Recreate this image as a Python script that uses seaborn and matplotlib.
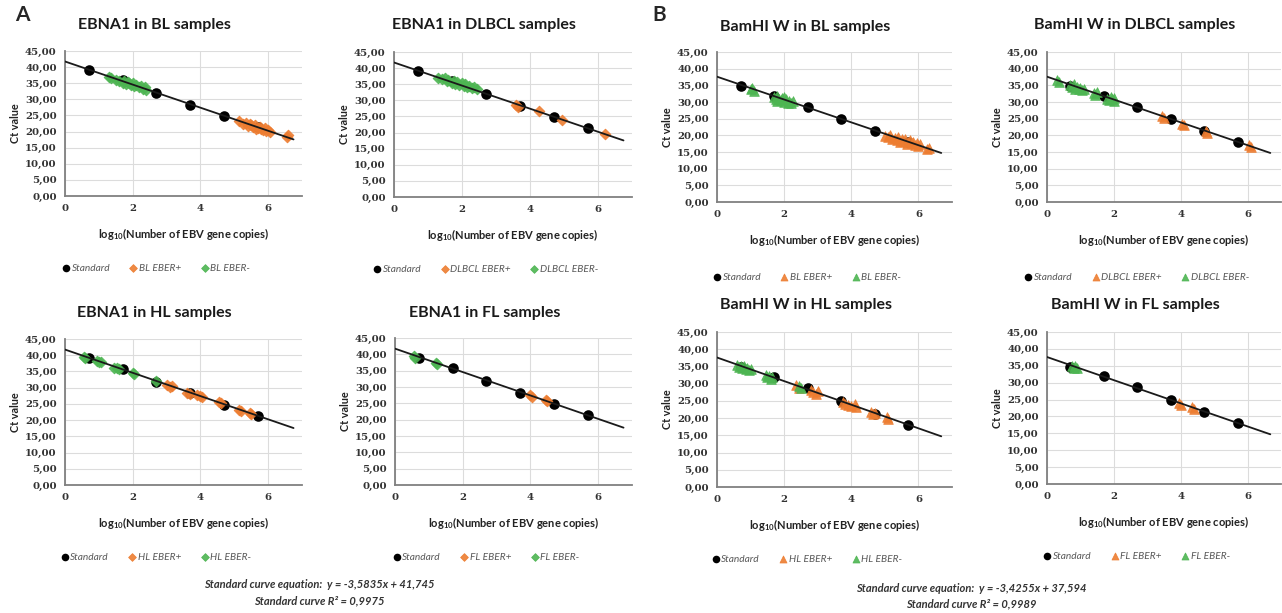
import numpy as np
import pandas as pd
import matplotlib
matplotlib.use("Agg")
import matplotlib.pyplot as plt
from matplotlib.font_manager import FontProperties
import seaborn as sns

# ---------------- data ----------------
std_x = [0.7, 1.7, 2.7, 3.7, 4.7, 5.7]
a_std_y = [39.0, 35.9, 31.9, 28.3, 24.8, 21.3]
b_std_y = [34.7, 31.9, 28.6, 24.9, 21.2, 18.0]

a_slope, a_intercept, a_line_end = -3.5835, 41.745, 6.75
b_slope, b_intercept, b_line_end = -3.4255, 37.594, 6.68

# EBNA1 (A)
a_bl_pos_x = [5.15, 5.25, 5.35, 5.4, 5.45, 5.5, 5.55, 5.6, 5.65, 5.7, 5.75, 5.8, 5.85, 5.9, 5.95, 6.0, 6.05, 6.55, 6.6]
a_bl_pos_y = [23.2, 22.5, 22.8, 21.8, 22.3, 22.0, 21.5, 21.9, 20.8, 21.0, 21.4, 20.8, 20.5, 21.2, 20.2, 20.6, 20.0, 18.3, 18.8]
a_bl_neg_x = [1.3, 1.35, 1.5, 1.6, 1.7, 1.75, 1.8, 1.85, 1.9, 1.95, 2.0, 2.05, 2.1, 2.2, 2.25, 2.3, 2.35, 2.4]
a_bl_neg_y = [37.0, 36.5, 36.0, 35.8, 35.2, 35.6, 34.8, 35.3, 35.0, 34.5, 35.1, 34.2, 34.6, 33.8, 34.2, 33.3, 33.8, 33.0]

a_dlbcl_pos_x = [3.6, 3.65, 4.25, 4.95, 6.2]
a_dlbcl_pos_y = [28.5, 28.0, 26.8, 24.0, 19.5]
a_dlbcl_neg_x = [1.3, 1.4, 1.5, 1.55, 1.6, 1.7, 1.75, 1.8, 1.85, 1.9, 2.0, 2.05, 2.1, 2.15, 2.2, 2.3, 2.35, 2.45]
a_dlbcl_neg_y = [37.0, 36.5, 36.8, 36.0, 36.4, 35.5, 36.1, 35.2, 35.7, 34.9, 35.3, 34.6, 35.0, 34.2, 34.5, 33.8, 34.1, 33.4]

a_hl_pos_x = [3.0, 3.1, 3.15, 3.6, 3.7, 3.9, 4.0, 4.05, 4.55, 4.6, 5.15, 5.2, 5.45, 5.5]
a_hl_pos_y = [30.8, 30.3, 30.6, 28.5, 28.0, 27.6, 27.3, 27.0, 25.6, 25.2, 23.0, 22.7, 22.2, 21.8]
a_hl_neg_x = [0.55, 0.6, 0.95, 1.0, 1.05, 1.45, 1.55, 1.6, 2.0, 2.05, 2.7]
a_hl_neg_y = [39.5, 39.2, 38.3, 37.8, 38.0, 36.2, 36.0, 35.8, 34.6, 34.3, 32.0]

a_fl_pos_x = [4.0, 4.05, 4.45, 4.5]
a_fl_pos_y = [27.5, 27.0, 26.0, 25.6]
a_fl_neg_x = [0.55, 0.6, 1.2, 1.25]
a_fl_neg_y = [39.5, 39.0, 37.4, 37.0]

# BamHI W (B)
b_bl_pos_x = [5.0, 5.1, 5.15, 5.2, 5.3, 5.35, 5.4, 5.45, 5.5, 5.55, 5.6, 5.65, 5.7, 5.75, 5.8, 5.85, 5.9, 5.95, 6.0, 6.05, 6.25, 6.3]
b_bl_pos_y = [19.8, 19.5, 20.1, 19.0, 19.3, 18.7, 19.6, 18.0, 18.8, 18.3, 18.9, 17.5, 18.0, 18.5, 17.6, 18.1, 17.2, 17.8, 16.9, 17.4, 15.8, 16.3]
b_bl_neg_x = [1.0, 1.05, 1.1, 1.7, 1.75, 1.8, 1.8, 1.85, 1.9, 1.95, 2.0, 2.0, 2.05, 2.1, 2.15, 2.2, 2.25]
b_bl_neg_y = [33.8, 34.3, 33.3, 31.5, 30.8, 31.8, 30.2, 31.0, 30.5, 31.2, 30.0, 31.5, 30.8, 29.8, 30.3, 29.6, 30.2]

b_dlbcl_pos_x = [3.45, 3.5, 4.05, 4.1, 4.75, 4.8, 6.05, 6.1]
b_dlbcl_pos_y = [25.8, 25.3, 23.5, 23.0, 21.3, 20.8, 17.0, 16.5]
b_dlbcl_neg_x = [0.3, 0.35, 0.7, 0.75, 0.8, 0.85, 0.9, 0.95, 1.0, 1.05, 1.1, 1.4, 1.45, 1.5, 1.8, 1.85, 1.9, 1.95, 2.0, 2.0]
b_dlbcl_neg_y = [36.5, 36.0, 35.0, 34.5, 35.3, 34.0, 34.6, 33.8, 34.2, 33.5, 34.0, 32.8, 32.2, 33.0, 31.0, 30.5, 31.5, 30.8, 30.3, 31.2]

b_hl_pos_x = [2.35, 2.45, 2.8, 2.85, 2.95, 3.0, 3.75, 3.8, 3.9, 4.0, 4.1, 4.15, 4.6, 4.65, 4.7, 5.05, 5.1]
b_hl_pos_y = [29.5, 28.8, 28.2, 27.5, 27.0, 27.8, 24.8, 24.2, 23.8, 23.5, 24.0, 23.2, 21.8, 21.2, 21.5, 20.2, 19.6]
b_hl_neg_x = [0.6, 0.65, 0.7, 0.75, 0.8, 0.85, 0.9, 0.95, 1.0, 1.45, 1.5, 1.55, 1.6, 1.65, 2.45, 2.5]
b_hl_neg_y = [35.5, 34.8, 35.2, 34.5, 35.0, 34.2, 34.6, 33.9, 34.3, 32.5, 31.8, 32.2, 31.5, 32.0, 29.2, 28.6]

b_fl_pos_x = [3.95, 4.0, 4.35, 4.4]
b_fl_pos_y = [24.0, 23.4, 22.8, 22.2]
b_fl_neg_x = [0.75, 0.8, 0.85, 0.9]
b_fl_neg_y = [34.8, 34.4, 35.0, 34.2]

titles = ["EBNA1 in BL samples", "EBNA1 in DLBCL samples", "EBNA1 in HL samples", "EBNA1 in FL samples",
          "BamHI W in BL samples", "BamHI W in DLBCL samples", "BamHI W in HL samples", "BamHI W in FL samples"]
groups = ["BL", "DLBCL", "HL", "FL", "BL", "DLBCL", "HL", "FL"]
y_ticks = [0, 5, 10, 15, 20, 25, 30, 35, 40, 45]
x_ticks = [0, 2, 4, 6]
x_label = "log$_{10}$(Number of EBV gene copies)"
y_label = "Ct value"
eq_a = ["Standard curve equation:  y = -3,5835x + 41,745", "Standard curve R² = 0,9975"]
eq_b = ["Standard curve equation:  y = -3,4255x + 37,594", "Standard curve R² = 0,9989"]

# ---------------- style ----------------
sns.set_theme(style="white")
plt.rcParams["font.family"] = ["Lato", "DejaVu Sans"]
plt.rcParams["mathtext.fontset"] = "custom"
plt.rcParams["mathtext.rm"] = "Lato:bold"
plt.rcParams["mathtext.default"] = "rm"

ORANGE = "#ED7D31"
GREEN = "#4DB552"
W, H = 1282, 613
fig = plt.figure(figsize=(W / 100, H / 100), dpi=100)
fig.patch.set_facecolor("white")

tick_fp = FontProperties(family="DejaVu Serif", weight="bold", size=7.3)

rects = [(65, 51, 302, 196), (394, 52, 632, 197), (65, 339, 302, 485), (395, 338, 632, 485),
         (717, 52, 952, 202), (1047, 52, 1281, 202), (717, 332, 952, 487), (1047, 332, 1281, 484)]
title_y = [25, 25, 313, 313, 27, 25, 305, 305]

panels = [
    (a_bl_pos_x, a_bl_pos_y, a_bl_neg_x, a_bl_neg_y),
    (a_dlbcl_pos_x, a_dlbcl_pos_y, a_dlbcl_neg_x, a_dlbcl_neg_y),
    (a_hl_pos_x, a_hl_pos_y, a_hl_neg_x, a_hl_neg_y),
    (a_fl_pos_x, a_fl_pos_y, a_fl_neg_x, a_fl_neg_y),
    (b_bl_pos_x, b_bl_pos_y, b_bl_neg_x, b_bl_neg_y),
    (b_dlbcl_pos_x, b_dlbcl_pos_y, b_dlbcl_neg_x, b_dlbcl_neg_y),
    (b_hl_pos_x, b_hl_pos_y, b_hl_neg_x, b_hl_neg_y),
    (b_fl_pos_x, b_fl_pos_y, b_fl_neg_x, b_fl_neg_y),
]

for i, (px, py, nx, ny) in enumerate(panels):
    l, t, r, b = rects[i]
    ax = fig.add_axes([l / W, 1 - b / H, (r - l) / W, (b - t) / H])
    is_b = i >= 4
    slope, intercept, xend = (b_slope, b_intercept, b_line_end) if is_b else (a_slope, a_intercept, a_line_end)
    stdy = b_std_y if is_b else a_std_y
    mk = "^" if is_b else "D"
    msize = 48 if is_b else 30
    g = groups[i]

    ax.set_xlim(0, 7)
    ax.set_ylim(0, 45)
    ax.grid(True, color="#dcdcdc", lw=0.8)
    ax.set_axisbelow(True)

    sns.scatterplot(x=std_x, y=stdy, ax=ax, color="black", marker="o", s=58,
                    edgecolor="black", linewidth=0, label="Standard", zorder=3)
    sns.scatterplot(x=px, y=py, ax=ax, color=ORANGE, marker=mk, s=msize,
                    edgecolor=ORANGE, linewidth=0.6, label=f"{g} EBER+", zorder=4, alpha=0.9)
    sns.scatterplot(x=nx, y=ny, ax=ax, color=GREEN, marker=mk, s=msize,
                    edgecolor=GREEN, linewidth=0.6, label=f"{g} EBER-", zorder=4, alpha=0.9)
    lx = np.array([0.0, xend])
    sns.lineplot(x=lx, y=slope * lx + intercept, ax=ax, color="#1a1a1a", lw=1.3, zorder=5, legend=False)

    ax.set_xticks(x_ticks)
    ax.set_xticklabels([str(v) for v in x_ticks], fontproperties=tick_fp, color="#333333")
    ax.set_yticks(y_ticks)
    ax.set_yticklabels([f"{v:.2f}".replace(".", ",") for v in y_ticks], fontproperties=tick_fp, color="#333333")
    ax.tick_params(axis="both", length=0, pad=6)
    for s in ["top", "right"]:
        ax.spines[s].set_visible(False)
    for s in ["left", "bottom"]:
        ax.spines[s].set_color("#808080")
        ax.spines[s].set_linewidth(1.3)

    ax.set_ylabel(y_label, fontsize=7.8, fontweight="bold", color="#222222", labelpad=3)
    ax.set_xlabel("")
    cx = (l + r) / 2
    fig.text(cx / W, 1 - (b + 38) / H, x_label, ha="center", va="center",
             fontsize=8, fontweight="bold", color="#222222")
    fig.text((cx - 29) / W, 1 - title_y[i] / H, titles[i], ha="center", va="center",
             fontsize=11.5, fontweight="bold", color="#1a1a1a")

    leg_y = (b + 72) if not is_b or i >= 6 else (b + 75)
    handles, labels = ax.get_legend_handles_labels()
    ax.legend(handles, labels, loc="center", bbox_to_anchor=((cx - 28) / W, 1 - leg_y / H),
              bbox_transform=fig.transFigure, ncol=3, frameon=False,
              prop={"style": "italic", "size": 7.3}, labelcolor="#595959",
              handletextpad=0.05, columnspacing=1.8, markerscale=0.72, handlelength=1.0)

fig.text(0.012, 1 - 15 / H, "A", fontsize=15, fontweight="bold", ha="left", va="center")
fig.text(652 / W, 1 - 15 / H, "B", fontsize=15, fontweight="bold", ha="left", va="center")

for k, line in enumerate(eq_a):
    fig.text(319 / W, 1 - (584 + 17 * k) / H, line, ha="center", va="center",
             fontsize=8, fontweight="bold", style="italic", color="#333333")
for k, line in enumerate(eq_b):
    fig.text(971 / W, 1 - (589 + 15 * k) / H, line, ha="center", va="center",
             fontsize=8, fontweight="bold", style="italic", color="#333333")

fig.savefig("out.png", dpi=100, facecolor="white")
